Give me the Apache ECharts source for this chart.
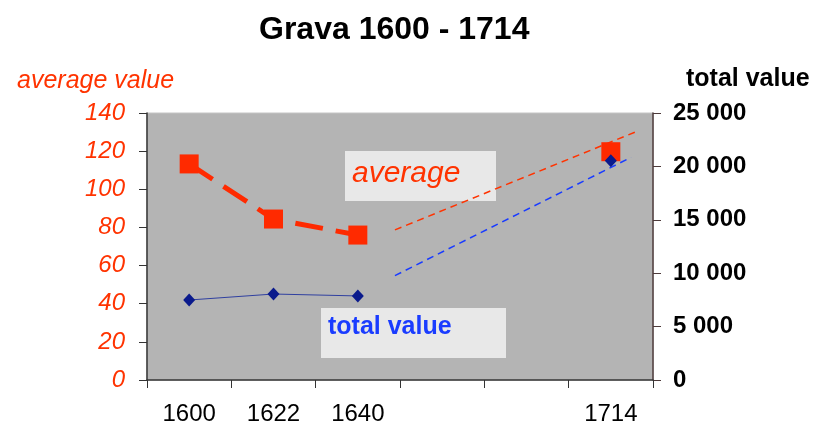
<!DOCTYPE html>
<html lang="en" style="height: 100%;margin: 0;background-color: #ffffff;">
<head>
    <meta charset="UTF-8">
    <title>Grava 1600 - 1714</title>
</head>
<body style="height: 100%;margin: 0;background-color: #ffffff;">
<div id="chart" style="width: 815px;height: 428px;margin: 0;"></div>
<script src="https://cdn.jsdelivr.net/npm/echarts@6/dist/echarts.min.js"></script>
<script>
    // data
    var years = ["1600", "1622", "1640", "", "", "1714"];
    var averageValues = [113.3, 84.4, 76.0, null, null, 119.7];
    var totalValues = [7490, 8050, 7870, null, null, 20530];
    // thin dashed guide lines, x in category units (0 = left edge of plot)
    var averageTrend = [[2.94, 78.7], [5.80, 130.2]];
    var totalTrend = [[2.94, 9770], [5.74, 20850]];
    var averageAxis = {min: 0, max: 140, interval: 20};
    var totalAxis = {min: 0, max: 25000, interval: 5000};

    var font = "'Liberation Sans', Arial, sans-serif";
    var myChart = echarts.init(document.getElementById("chart"), null, {renderer: 'canvas'});

    function spaced(v) {
        return String(v).replace(/\B(?=(\d{3})+(?!\d))/g, " ");
    }

    var option = {
        backgroundColor: '#ffffff',
        animation: false,
        title: [{
            text: "Grava 1600 - 1714",
            left: 254,
            top: 9,
            textStyle: {fontFamily: font, fontSize: 32, fontWeight: 'bold', color: '#000'}
        }, {
            text: "average value",
            left: 12,
            top: 64,
            textStyle: {fontFamily: font, fontSize: 25, fontStyle: 'italic', fontWeight: 'normal', color: '#ff3300'}
        }, {
            text: "total value",
            left: 681,
            top: 62,
            textStyle: {fontFamily: font, fontSize: 25, fontWeight: 'bold', color: '#000'}
        }],
        grid: {
            left: 147, right: 162, top: 113, bottom: 48,
            show: true, backgroundColor: '#b4b4b4', borderColor: '#c4c4c4', borderWidth: 1
        },
        xAxis: [{
            type: 'category',
            data: years,
            boundaryGap: true,
            axisLine: {lineStyle: {color: '#333', width: 1.5}},
            axisTick: {show: true, length: 8, alignWithLabel: false, interval: 0, lineStyle: {color: '#333'}},
            axisLabel: {interval: 0, margin: 22, fontFamily: font, fontSize: 24, color: '#000'},
            splitLine: {show: false}
        }, {
            type: 'value',
            min: 0, max: 6,
            show: false
        }],
        yAxis: [{
            type: 'value',
            position: 'left',
            min: averageAxis.min, max: averageAxis.max, interval: averageAxis.interval,
            axisLine: {show: true, lineStyle: {color: '#333', width: 1.5}},
            axisTick: {show: true, length: 8, lineStyle: {color: '#333'}},
            axisLabel: {margin: 22, fontFamily: font, fontSize: 24, fontStyle: 'italic', color: '#ff3300'},
            splitLine: {show: false}
        }, {
            type: 'value',
            position: 'right',
            min: totalAxis.min, max: totalAxis.max, interval: totalAxis.interval,
            axisLine: {show: true, lineStyle: {color: '#4d3a3a', width: 1.5}},
            axisTick: {show: true, length: 8, lineStyle: {color: '#4d3a3a'}},
            axisLabel: {
                margin: 20, fontFamily: font, fontSize: 24, fontWeight: 'bold', color: '#000',
                formatter: spaced
            },
            splitLine: {show: false}
        }],
        series: [{
            name: "average",
            type: 'line',
            data: averageValues,
            connectNulls: false,
            symbol: 'rect',
            symbolSize: 19,
            itemStyle: {color: '#ff2a00'},
            lineStyle: {color: '#ff2a00', width: 5, type: [28, 13]},
            z: 3
        }, {
            name: "average trend",
            type: 'line',
            xAxisIndex: 1,
            yAxisIndex: 0,
            data: averageTrend,
            symbol: 'none',
            lineStyle: {color: '#ff3300', width: 1.5, type: [7, 5]},
            z: 2
        }, {
            name: "total trend",
            type: 'line',
            xAxisIndex: 1,
            yAxisIndex: 1,
            data: totalTrend,
            symbol: 'none',
            lineStyle: {color: '#1a3cff', width: 1.5, type: [7, 5]},
            z: 2
        }, {
            name: "total value",
            type: 'line',
            yAxisIndex: 1,
            data: totalValues,
            connectNulls: false,
            symbol: 'diamond',
            symbolSize: [12, 13],
            itemStyle: {color: '#0a1a8c'},
            lineStyle: {color: '#3040a0', width: 1},
            z: 4
        }],
        graphic: [{
            type: 'group',
            left: 345, top: 151, z: 100,
            children: [{
                type: 'rect',
                shape: {x: 0, y: 0, width: 151, height: 50},
                style: {fill: '#e8e8e8'}
            }, {
                type: 'text',
                x: 7, y: 8,
                style: {text: "average", fontFamily: font, fontSize: 30, fontStyle: 'italic', fill: '#ff3300'}
            }]
        }, {
            type: 'group',
            left: 321, top: 308, z: 100,
            children: [{
                type: 'rect',
                shape: {x: 0, y: 0, width: 185, height: 50},
                style: {fill: '#e8e8e8'}
            }, {
                type: 'text',
                x: 7, y: 7,
                style: {text: "total value", fontFamily: font, fontSize: 25, fontWeight: 'bold', fill: '#1a3cff'}
            }]
        }]
    };
    myChart.setOption(option, true);
</script>
</body>
</html>
